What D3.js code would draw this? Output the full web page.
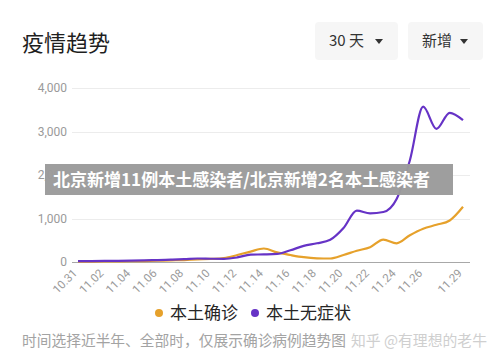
<!DOCTYPE html>
<meta charset="utf-8">
<style>
    body { margin: 0; background: #fff; }
    svg { font-family: "Noto Sans CJK SC", "Noto Sans", sans-serif; display: block; }
    .grid line { stroke: #ececec; stroke-width: 1; shape-rendering: crispEdges; }
    .tick-label { fill: #9a9a9a; font-size: 12px; font-family: Roboto, "Noto Sans", sans-serif; }
</style>
<body>
<script src="https://d3js.org/d3.v7.min.js"></script>
<script>
    // dates shown on the x axis (30 days)
    const dates = ["10.31", "11.01", "11.02", "11.03", "11.04", "11.05", "11.06", "11.07", "11.08", "11.09",
        "11.10", "11.11", "11.12", "11.13", "11.14", "11.15", "11.16", "11.17", "11.18", "11.19",
        "11.20", "11.21", "11.22", "11.23", "11.24", "11.25", "11.26", "11.27", "11.28", "11.29"];
    const tickDates = ["10.31", "11.02", "11.04", "11.06", "11.08", "11.10", "11.12", "11.14",
        "11.16", "11.18", "11.20", "11.22", "11.24", "11.26", "11.29"];
    const yTicks = [0, 1000, 2000, 3000, 4000];

    // 本土确诊
    const confirmed = [10, 10, 12, 15, 18, 22, 30, 38, 45, 60,
        70, 90, 160, 240, 310, 220, 160, 110, 85, 80,
        160, 260, 340, 515, 430, 615, 765, 855, 955, 1270];
    // 本土无症状
    const asymptomatic = [20, 22, 25, 28, 32, 38, 45, 55, 65, 80,
        75, 72, 105, 170, 175, 185, 270, 370, 430, 510,
        780, 1180, 1120, 1150, 1450, 2340, 3570, 3060, 3430, 3260];

    const series = [
        {name: "本土确诊", values: confirmed, color: "#e6a12b"},
        {name: "本土无症状", values: asymptomatic, color: "#6633c6"}
    ];

    const W = 500, H = 361;
    const svg = d3.select("body").append("svg")
        .attr("width", W)
        .attr("height", H);

    // header
    svg.append("text")
        .attr("x", 22).attr("y", 51)
        .style("font-size", "22px")
        .style("fill", "#1f1f1f")
        .text("疫情趋势");

    const buttons = [
        {label: "30 天", x: 315, w: 83},
        {label: "新增", x: 408, w: 75}
    ];
    const btn = svg.selectAll(".btn")
        .data(buttons)
        .enter().append("g")
        .attr("class", "btn")
        .attr("transform", d => "translate(" + d.x + ",22)");
    btn.append("rect")
        .attr("width", d => d.w)
        .attr("height", 38)
        .attr("rx", 4)
        .style("fill", "#f6f6f6");
    btn.append("text")
        .attr("x", 14).attr("y", 24)
        .style("font-size", "15px")
        .style("fill", "#333")
        .text(d => d.label);
    btn.append("path")
        .attr("d", d => "M" + (d.w - 23) + ",17l8,0l-4,5z")
        .style("fill", "#333");

    // scales
    const x = d3.scaleLinear().domain([0, dates.length - 1]).range([78, 463]);
    const y = d3.scaleLinear().domain([0, 4000]).range([262, 88]);

    // grid
    const grid = svg.append("g").attr("class", "grid");
    grid.selectAll("line")
        .data(yTicks.filter(d => d > 0))
        .enter().append("line")
        .attr("x1", 72).attr("x2", 470)
        .attr("y1", d => Math.round(y(d)) + 0.5)
        .attr("y2", d => Math.round(y(d)) + 0.5);
    svg.append("line")
        .attr("x1", 72).attr("x2", 470)
        .attr("y1", Math.round(y(0)) + 0.5).attr("y2", Math.round(y(0)) + 0.5)
        .style("stroke", "#a8a8a8")
        .style("shape-rendering", "crispEdges");

    // y axis labels
    svg.selectAll(".ylab")
        .data(yTicks)
        .enter().append("text")
        .attr("class", "tick-label")
        .attr("x", 67)
        .attr("y", d => y(d))
        .attr("dy", "0.35em")
        .style("text-anchor", "end")
        .text(d => d3.format(",")(d));

    // x axis labels
    svg.selectAll(".xlab")
        .data(tickDates)
        .enter().append("text")
        .attr("class", "tick-label")
        .style("font-size", "11.5px")
        .attr("transform", d => "translate(" + (x(dates.indexOf(d)) - 3) + ",271) rotate(-45)")
        .attr("dy", "0.35em")
        .style("text-anchor", "end")
        .text(d => d);

    // lines
    const line = d3.line()
        .x((d, i) => x(i))
        .y(d => y(d))
        .curve(d3.curveMonotoneX);

    svg.selectAll(".series")
        .data(series)
        .enter().append("path")
        .attr("class", "series")
        .attr("d", d => line(d.values))
        .style("fill", "none")
        .style("stroke", d => d.color)
        .style("stroke-width", 2.2)
        .style("stroke-linejoin", "round");

    // legend
    const legendPos = [159, 255];
    const legend = svg.selectAll(".legend")
        .data(series)
        .enter().append("g")
        .attr("class", "legend")
        .attr("transform", (d, i) => "translate(" + legendPos[i] + ",313)");
    legend.append("circle")
        .attr("r", 4)
        .style("fill", d => d.color);
    legend.append("text")
        .attr("x", 11)
        .attr("dy", "0.36em")
        .style("font-size", "17px")
        .style("fill", "#262626")
        .text(d => d.name);

    // footer
    svg.append("text")
        .attr("x", 22).attr("y", 346)
        .style("font-size", "15px")
        .attr("textLength", 324)
        .attr("lengthAdjust", "spacingAndGlyphs")
        .style("fill", "#a3a3a3")
        .text("时间选择近半年、全部时，仅展示确诊病例趋势图");
    svg.append("text")
        .attr("x", 351).attr("y", 346)
        .style("font-size", "15px")
        .attr("textLength", 136)
        .attr("lengthAdjust", "spacingAndGlyphs")
        .style("fill", "#cfcfcf")
        .text("知乎 @有理想的老牛");

    // headline banner over the chart
    svg.append("rect")
        .attr("x", 45).attr("y", 164)
        .attr("width", 408).attr("height", 31)
        .style("fill", "#9b9b9b")
        .style("opacity", 0.97);
    svg.append("text")
        .attr("x", 53).attr("y", 186)
        .style("font-size", "17.5px")
        .style("font-weight", "bold")
        .attr("textLength", 377)
        .attr("lengthAdjust", "spacingAndGlyphs")
        .style("fill", "#fff")
        .text("北京新增11例本土感染者/北京新增2名本土感染者");
</script>
</body>
</html>
